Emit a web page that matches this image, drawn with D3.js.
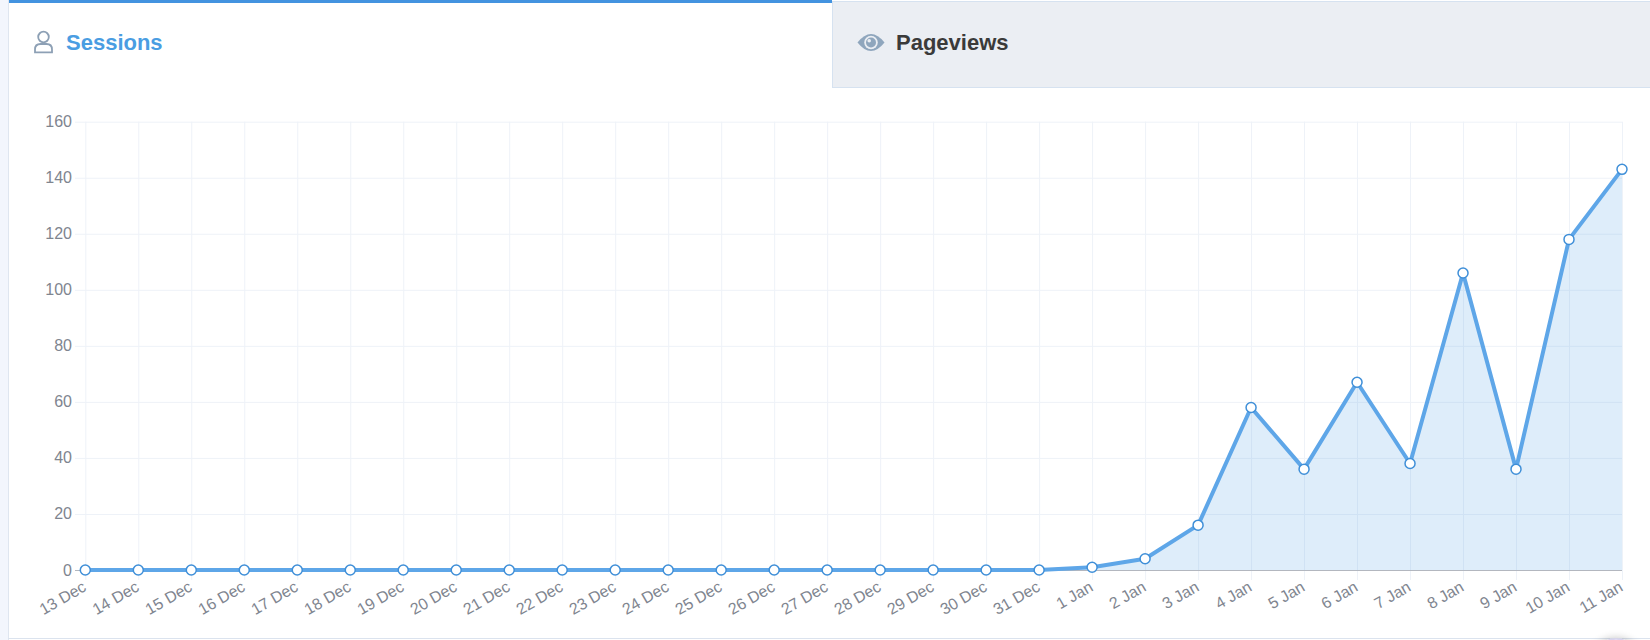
<!DOCTYPE html>
<html lang="en">
<head>
    <meta charset="UTF-8">
    <title>Sessions</title>
    <script src="https://d3js.org/d3.v7.min.js"></script>
    <style>
        html, body { margin: 0; padding: 0; background: #fff; overflow: hidden; }
        svg { display: block; font-family: "Liberation Sans", Arial, sans-serif; }
        .tick-label { font-size: 16px; fill: #80858f; }
    </style>
</head>
<body>
    <svg width="1650" height="640"></svg>

    <script>
        // Daily sessions, 13 Dec to 11 Jan
        const days = ["13 Dec", "14 Dec", "15 Dec", "16 Dec", "17 Dec", "18 Dec", "19 Dec", "20 Dec",
            "21 Dec", "22 Dec", "23 Dec", "24 Dec", "25 Dec", "26 Dec", "27 Dec", "28 Dec", "29 Dec",
            "30 Dec", "31 Dec", "1 Jan", "2 Jan", "3 Jan", "4 Jan", "5 Jan", "6 Jan", "7 Jan", "8 Jan",
            "9 Jan", "10 Jan", "11 Jan"];
        const sessions = [0, 0, 0, 0, 0, 0, 0, 0, 0, 0, 0, 0, 0, 0, 0, 0, 0, 0, 0,
            1, 4, 16, 58, 36, 67, 38, 106, 36, 118, 143];
        const yTicks = [0, 20, 40, 60, 80, 100, 120, 140, 160];

        const svg = d3.select("svg");

        // page strip on the left + card borders
        svg.append("rect").attr("x", 0).attr("y", 0).attr("width", 8).attr("height", 640).attr("fill", "#f3f6fd");
        svg.append("line").attr("x1", 8.5).attr("x2", 8.5).attr("y1", 0).attr("y2", 640).attr("stroke", "#dfe6f0");
        svg.append("line").attr("x1", 8).attr("x2", 1650).attr("y1", 638.5).attr("y2", 638.5).attr("stroke", "#dbe3ee");

        // tabs
        svg.append("rect").attr("x", 832.5).attr("y", 1.5).attr("width", 830).attr("height", 86)
            .attr("fill", "#ebeef3").attr("stroke", "#d6e2f0");
        svg.append("rect").attr("x", 9).attr("y", 0).attr("width", 823).attr("height", 3).attr("fill", "#4393e0");

        // person icon
        const person = svg.append("g").attr("fill", "none").attr("stroke", "#8da0b5").attr("stroke-width", 1.8);
        person.append("circle").attr("cx", 43.5).attr("cy", 37).attr("r", 5.3);
        person.append("path").attr("d", "M35,52.4 L35,49.5 Q35,44 40.5,44 L46.5,44 Q52,44 52,49.5 L52,52.4 Z");

        svg.append("text").attr("x", 66).attr("y", 50).attr("font-size", 22).attr("font-weight", "bold")
            .attr("fill", "#4a9de2").text("Sessions");

        // eye icon
        const eye = svg.append("g").attr("transform", "translate(871,42.5)");
        eye.append("path").attr("d", "M-13.5,0 Q0,-17 13.5,0 Q0,17 -13.5,0 Z").attr("fill", "#8fa6bd");
        eye.append("circle").attr("r", 6.8).attr("fill", "#ebeef3");
        eye.append("circle").attr("r", 5).attr("fill", "#8fa6bd");
        eye.append("circle").attr("cx", -1.8).attr("cy", -1.8).attr("r", 1.8).attr("fill", "#ebeef3");

        svg.append("text").attr("x", 896).attr("y", 50).attr("font-size", 22).attr("font-weight", "bold")
            .attr("fill", "#3a3a3a").text("Pageviews");

        // scales
        const x = d3.scalePoint().domain(days).range([85.3, 1622]);
        const y = d3.scaleLinear().domain([0, 160]).range([570, 121.7]);

        const chart = svg.append("g");

        // horizontal grid + y ticks
        chart.selectAll(".hgrid").data(yTicks).enter().append("line")
            .attr("x1", 75).attr("x2", 1622)
            .attr("y1", d => y(d) + 0.5).attr("y2", d => y(d) + 0.5)
            .attr("stroke", d => d === 0 ? "#b3b7bf" : "#eef2f8");

        chart.selectAll(".ylab").data(yTicks).enter().append("text")
            .attr("class", "tick-label")
            .attr("x", 72).attr("y", d => y(d))
            .attr("text-anchor", "end").attr("dominant-baseline", "central")
            .text(d => d);

        // vertical grid + x ticks
        chart.selectAll(".vgrid").data(days).enter().append("line")
            .attr("x1", d => x(d) + 0.5).attr("x2", d => x(d) + 0.5)
            .attr("y1", y(160)).attr("y2", 580)
            .attr("stroke", "#eef2f8");

        chart.selectAll(".xlab").data(days).enter().append("text")
            .attr("class", "tick-label")
            .attr("transform", d => `translate(${x(d) + 2},590) rotate(-30)`)
            .attr("text-anchor", "end")
            .text(d => d);

        // area + line
        const area = d3.area().x((d, i) => x(days[i])).y0(y(0)).y1(d => y(d));
        const line = d3.line().x((d, i) => x(days[i])).y(d => y(d));

        chart.append("path").datum(sessions).attr("d", area).attr("fill", "rgba(91,164,230,0.2)");
        chart.append("line").attr("x1", 75).attr("x2", 1622).attr("y1", y(0) + 0.5).attr("y2", y(0) + 0.5)
            .attr("stroke", "#b3b7bf");
        chart.append("path").datum(sessions).attr("d", line)
            .attr("fill", "none").attr("stroke", "#5ea6e8").attr("stroke-width", 4)
            .attr("stroke-linejoin", "round");

        chart.selectAll(".pt").data(sessions).enter().append("circle")
            .attr("cx", (d, i) => x(days[i])).attr("cy", d => y(d))
            .attr("r", 5).attr("fill", "#fff").attr("stroke", "#3f8fd8").attr("stroke-width", 1.5);

        // floating button peeking in at bottom right
        const defs = svg.append("defs");
        const f = defs.append("filter").attr("id", "sh").attr("x", "-50%").attr("y", "-50%").attr("width", "200%").attr("height", "200%");
        f.append("feGaussianBlur").attr("in", "SourceAlpha").attr("stdDeviation", 4);
        f.append("feComponentTransfer").append("feFuncA").attr("type", "linear").attr("slope", 0.25);
        const m = f.append("feMerge");
        m.append("feMergeNode");
        m.append("feMergeNode").attr("in", "SourceGraphic");
        svg.append("circle").attr("cx", 1616).attr("cy", 665).attr("r", 26)
            .attr("fill", "#fff").attr("stroke", "#d9d3ee").attr("stroke-width", 1.5).attr("filter", "url(#sh)");
    </script>
</body>
</html>
